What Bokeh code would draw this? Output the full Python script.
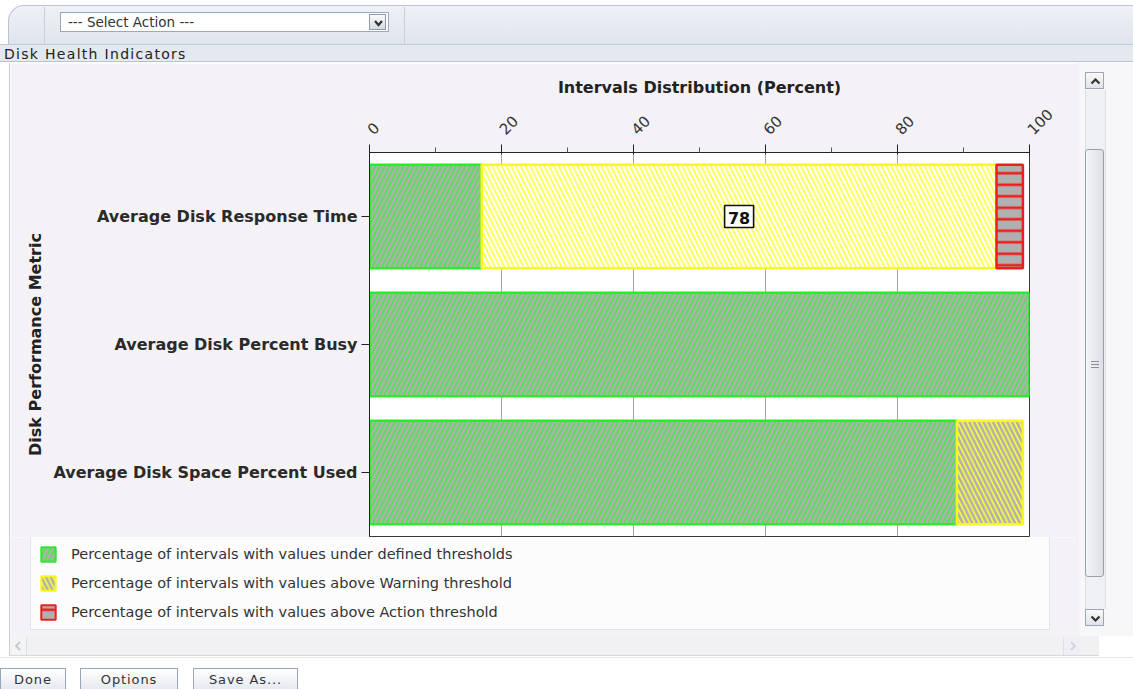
from math import pi

from bokeh.plotting import figure
from bokeh.models import (ColumnDataSource, FactorRange, Range1d, Legend, LegendItem,
                          Div, FixedTicker)
from bokeh.core.properties import value
from bokeh.layouts import column, row
from bokeh.embed import file_html
from bokeh.resources import INLINE

# ---------------- data ----------------
metrics = ["Average Disk Response Time",
           "Average Disk Percent Busy",
           "Average Disk Space Percent Used"]
under_pct = [17, 100, 89]
warning_pct = [78, 0, 10]
action_pct = [4, 0, 0]
series_names = ["Percentage of intervals with values under defined thresholds",
                "Percentage of intervals with values above Warning threshold",
                "Percentage of intervals with values above Action threshold"]
x_ticks = [0, 20, 40, 60, 80, 100]
x_title = "Intervals Distribution (Percent)"
y_title = "Disk Performance Metric"
panel_title = "Disk Health Indicators"
action_menu = "--- Select Action ---"
buttons = ["Done", "Options", "Save As..."]

# ---------------- styles ----------------
GRAY = "#b0b0b0"
WARN_BG = ["#fefef8", GRAY, GRAY]
PANEL_BG = "#f4f2f6"
FONT = "DejaVu Sans"


def seg_source(vals, lefts, fills):
    d = dict(y=[], left=[], right=[], fill=[], value=[])
    for m, v, l, f in zip(metrics, vals, lefts, fills):
        if v > 0:
            d["y"].append(m)
            d["left"].append(l)
            d["right"].append(l + v)
            d["fill"].append(f)
            d["value"].append(v)
    return ColumnDataSource(d)


under_left = [0] * len(metrics)
warn_left = [u for u in under_pct]
act_left = [u + w for u, w in zip(under_pct, warning_pct)]

src_under = seg_source(under_pct, under_left, [GRAY] * 3)
src_warn = seg_source(warning_pct, warn_left, WARN_BG)
src_act = seg_source(action_pct, act_left, [GRAY] * 3)

STYLES = [
    dict(line_color="#2fe82f", hatch_pattern="/", hatch_color="#45e845",
         hatch_weight=1.6, hatch_scale=9.5),
    dict(line_color="#f8f81a", hatch_pattern="\\", hatch_color="#ffff38",
         hatch_weight=1.6, hatch_scale=9.5),
    dict(line_color="#ee1e1e", hatch_pattern="-", hatch_color="#ee1e1e",
         hatch_weight=2.6, hatch_scale=11.5),
]
SOURCES = [src_under, src_warn, src_act]
BAR_H = 0.81

p = figure(width=1065, height=474,
           y_range=FactorRange(*metrics[::-1]), x_range=Range1d(0, 100),
           x_axis_location="above", output_backend="svg", toolbar_location=None,
           min_border_left=359, min_border_right=46, min_border_top=89, min_border_bottom=1,
           background_fill_color="#ffffff", border_fill_color=PANEL_BG,
           outline_line_color="#3a3a3a", outline_line_width=1, margin=0)

renderers = []
for src, st in zip(SOURCES, STYLES):
    renderers.append(p.hbar(y="y", left="left", right="right", height=BAR_H, source=src,
                            fill_color="fill", line_width=2.5, **st))

# value label on the dominant warning segment
lab = dict(x=[], y=[], text=[])
for m, l, v in zip(metrics, warn_left, warning_pct):
    if v >= 50:
        lab["x"].append(l + v / 2)
        lab["y"].append(m)
        lab["text"].append(str(v))
lab_src = ColumnDataSource(lab)
p.rect(x="x", y="y", width=29, height=22, width_units="screen", height_units="screen",
       source=lab_src, fill_color="#ffffff", line_color="#111111", line_width=1.6)
p.text(x="x", y="y", text="text", source=lab_src, text_align="center",
       text_baseline="middle", text_font=value(FONT), text_font_style="bold",
       text_font_size="16px", text_color="#111111", y_offset=1)

# axes
minor = [(a + b) / 2 for a, b in zip(x_ticks[:-1], x_ticks[1:])]
xa = p.xaxis[0]
xa.ticker = FixedTicker(ticks=x_ticks, minor_ticks=minor)
xa.major_label_orientation = pi / 4
xa.major_label_text_font = FONT
xa.major_label_text_font_size = "15px"
xa.major_label_text_color = "#333333"
xa.major_label_standoff = 13
xa.axis_line_color = "#222222"
xa.major_tick_line_color = "#222222"
xa.minor_tick_line_color = "#555555"
xa.major_tick_out = 8
xa.major_tick_in = 2
xa.minor_tick_out = 5
xa.minor_tick_in = 0
xa.axis_label = x_title
xa.axis_label_text_font = FONT
xa.axis_label_text_font_style = "bold"
xa.axis_label_text_font_size = "16px"
xa.axis_label_text_color = "#222222"
xa.axis_label_standoff = 3

ya = p.yaxis[0]
ya.major_label_text_font = FONT
ya.major_label_text_font_style = "bold"
ya.major_label_text_font_size = "16px"
ya.major_label_text_color = "#2a2a2a"
ya.axis_line_color = "#222222"
ya.major_tick_line_color = "#222222"
ya.major_tick_out = 8
ya.major_tick_in = 0
ya.major_label_standoff = 4
ya.axis_label = y_title
ya.axis_label_text_font = FONT
ya.axis_label_text_font_style = "bold"
ya.axis_label_text_font_size = "16px"
ya.axis_label_text_color = "#222222"
ya.axis_label_standoff = 5

p.ygrid.visible = False
p.xgrid.grid_line_color = "#a4a4a4"
p.xgrid.grid_line_width = 1

# ---------------- legend strip (own figure, proxies of the same series) ----------------
lf = figure(width=1065, height=99, y_range=FactorRange(*metrics[::-1]), x_range=Range1d(0, 100),
            x_axis_location=None, y_axis_location=None,
            output_backend="svg", toolbar_location=None,
            min_border_left=0, min_border_right=0, min_border_top=0, min_border_bottom=0,
            background_fill_color=PANEL_BG, border_fill_color=PANEL_BG,
            outline_line_color=None, margin=0)
lf.grid.visible = False
proxies = []
for src, st in zip(SOURCES, STYLES):
    proxies.append(lf.hbar(y="y", left="left", right="right", height=BAR_H, source=src,
                           fill_color="fill", line_width=2, visible=False, **st))

legend = Legend(items=[LegendItem(label=series_names[0], renderers=[proxies[0]], index=0),
                       LegendItem(label=series_names[1], renderers=[proxies[1]], index=1),
                       LegendItem(label=series_names[2], renderers=[proxies[2]], index=0)],
                location=(20, 6), orientation="vertical", click_policy="none",
                glyph_width=18, glyph_height=18, label_height=18, label_width=970,
                label_standoff=14, spacing=11, padding=8, margin=0,
                border_line_color="#c3d0e0", border_line_width=1,
                background_fill_color="#fcfcfd", background_fill_alpha=1,
                label_text_font=FONT, label_text_font_size="14.5px",
                label_text_color="#333333")
lf.add_layout(legend, "center")

# ---------------- window chrome ----------------
chev = ('<svg width="17" height="16" style="display:block">'
        '<polyline points="5,6 8.5,10 12,6" fill="none" stroke="#333" stroke-width="2.2"/></svg>')

top_html = f"""
<div style="position:relative;width:1133px;height:44px;background:#ffffff;overflow:hidden;font-family:'{FONT}';">
 <div style="position:absolute;left:8px;top:5px;width:1140px;height:45px;background:linear-gradient(#eef1f6,#dde3ec);
      border-top:1px solid #b9c3d1;border-left:1px solid #b9c3d1;border-top-left-radius:16px;"></div>
 <div style="position:absolute;left:44px;top:7px;width:1px;height:37px;background:#c8cfda"></div>
 <div style="position:absolute;left:404px;top:7px;width:1px;height:37px;background:#c8cfda"></div>
 <div style="position:absolute;left:60px;top:12px;width:329px;height:20px;background:#ffffff;border:1px solid #9aa9bd;"></div>
 <div style="position:absolute;left:68px;top:14px;font-size:13.5px;line-height:16px;color:#333;white-space:nowrap;">{action_menu}</div>
 <div style="position:absolute;left:369px;top:14px;width:17px;height:16px;background:linear-gradient(#fbfbfb,#d5d9e1);
      border:1px solid #8e9aae;">{chev}</div>
</div>"""

hdr_html = f"""
<div style="position:relative;width:1133px;height:19px;background:#ffffff;overflow:hidden;font-family:'{FONT}';">
 <div style="position:absolute;left:0px;top:0px;width:1133px;height:18px;background:#e4e8ef;
      border-top:1px solid #c2cad6;border-bottom:1px solid #b9c2cf;"></div>
 <div style="position:absolute;left:4px;top:2px;font-size:14px;line-height:16px;color:#222;white-space:nowrap;letter-spacing:1.3px;">{panel_title}</div>
</div>"""


def left_html(h):
    return f"""
<div style="position:relative;width:10px;height:{h}px;background:#ffffff;">
 <div style="position:absolute;left:9px;top:0px;width:1px;height:{h}px;background:#c9cfd9"></div>
</div>"""


right_top_html = f"""
<div style="position:relative;width:58px;height:474px;background:#f7f6f9;overflow:hidden;">
 <div style="position:absolute;left:0px;top:0px;width:4px;height:474px;background:{PANEL_BG}"></div>
 <div style="position:absolute;left:10px;top:27px;width:21px;height:460px;background:#eef0f4;border-left:1px solid #dde0e6;border-right:1px solid #dde0e6;"></div>
 <div style="position:absolute;left:10px;top:9px;width:19px;height:17px;background:linear-gradient(#fafafa,#dfe2e8);border:1px solid #9ea6b3;">
   <svg width="19" height="17" style="display:block"><polyline points="5.5,10.5 9.5,6.5 13.5,10.5" fill="none" stroke="#333" stroke-width="2.2"/></svg></div>
 <div style="position:absolute;left:10px;top:86px;width:19px;height:500px;background:linear-gradient(90deg,#f3f4f7,#dcdfe6);
      border:1px solid #9aa1ad;border-radius:3px;"></div>
 <div style="position:absolute;left:16px;top:298px;width:8px;height:1px;background:#8a8f99"></div>
 <div style="position:absolute;left:16px;top:301px;width:8px;height:1px;background:#8a8f99"></div>
 <div style="position:absolute;left:16px;top:304px;width:8px;height:1px;background:#8a8f99"></div>
</div>"""

right_bot_html = f"""
<div style="position:relative;width:58px;height:99px;background:#f7f6f9;overflow:hidden;">
 <div style="position:absolute;left:0px;top:0px;width:4px;height:99px;background:{PANEL_BG}"></div>
 <div style="position:absolute;left:10px;top:0px;width:21px;height:72px;background:#eef0f4;border-left:1px solid #dde0e6;border-right:1px solid #dde0e6;"></div>
 <div style="position:absolute;left:10px;top:-10px;width:19px;height:50px;background:linear-gradient(90deg,#f3f4f7,#dcdfe6);
      border:1px solid #9aa1ad;border-radius:3px;"></div>
 <div style="position:absolute;left:10px;top:72px;width:19px;height:17px;background:linear-gradient(#fafafa,#dfe2e8);border:1px solid #9ea6b3;">
   <svg width="19" height="17" style="display:block"><polyline points="5.5,6.5 9.5,10.5 13.5,6.5" fill="none" stroke="#333" stroke-width="2.2"/></svg></div>
</div>"""

btn_left = [0, 80, 193]
btn_w = [68, 100, 107]
btn_parts = []
for label, bl, bw in zip(buttons, btn_left, btn_w):
    btn_parts.append(
        f'<div style="position:absolute;left:{bl}px;top:32px;width:{bw - 2}px;height:24px;'
        f'background:linear-gradient(#ffffff,#e3e7ee);border:1px solid #9ba7b9;'
        f'font-size:13px;line-height:22px;color:#333;text-align:center;letter-spacing:0.9px;">{label}</div>')

bot_html = f"""
<div style="position:relative;width:1133px;height:53px;background:#ffffff;overflow:hidden;font-family:'{FONT}';">
 <div style="position:absolute;left:9px;top:0px;width:1090px;height:20px;background:#f1f1f4;border-left:1px solid #c9cfd9;border-bottom:1px solid #d5d9e0;"></div>
 <div style="position:absolute;left:10px;top:1px;width:17px;height:18px;background:#f3f4f6;border-right:1px solid #dde0e6;">
   <svg width="17" height="18" style="display:block"><polyline points="10,5 6,9 10,13" fill="none" stroke="#c4c8cf" stroke-width="1.8"/></svg></div>
 <div style="position:absolute;left:1063px;top:1px;width:18px;height:18px;background:#eef0f3;border-left:1px solid #dde0e6;">
   <svg width="18" height="18" style="display:block"><polyline points="7,5 11,9 7,13" fill="none" stroke="#d0d4da" stroke-width="1.8"/></svg></div>
 <div style="position:absolute;left:0px;top:21px;width:1133px;height:1px;background:#e2e5ea"></div>
 {''.join(btn_parts)}
</div>"""

kw = dict(margin=0, styles={"overflow": "hidden"})
top_div = Div(text=top_html, width=1133, height=44, **kw)
hdr_div = Div(text=hdr_html, width=1133, height=19, **kw)
left1 = Div(text=left_html(474), width=10, height=474, **kw)
left2 = Div(text=left_html(99), width=10, height=99, **kw)
right1 = Div(text=right_top_html, width=58, height=474, **kw)
right2 = Div(text=right_bot_html, width=58, height=99, **kw)
bot_div = Div(text=bot_html, width=1133, height=53, **kw)

row1 = row(left1, p, right1, spacing=0, margin=0)
row2 = row(left2, lf, right2, spacing=0, margin=0)
layout = column(top_div, hdr_div, row1, row2, bot_div, spacing=0, margin=0)

open("out.html", "w").write(file_html(layout, INLINE))
